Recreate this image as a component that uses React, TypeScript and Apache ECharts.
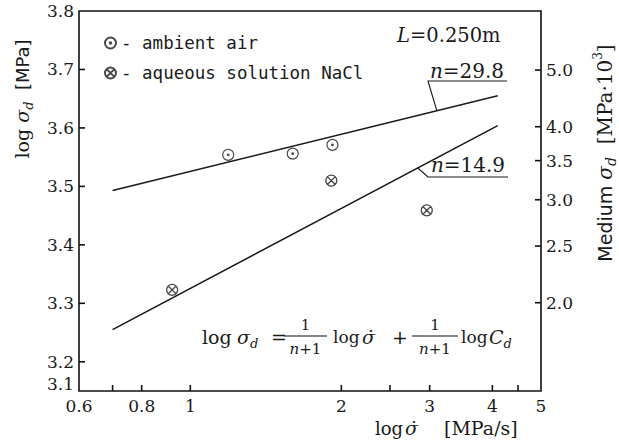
import React, { useEffect, useRef } from "react";
import * as echarts from "echarts";

// ---- data ----
// stress rate σ̇ [MPa/s] and log σd [MPa]
const AIR_RATE = [1.19, 1.6, 1.92];
const AIR_LOG_STRESS = [3.554, 3.556, 3.571];
const NACL_RATE = [0.92, 1.91, 2.96];
const NACL_LOG_STRESS = [3.323, 3.51, 3.459];
// fitted lines (end points)
const FIT_RATE = [0.7, 4.1];
const FIT_AIR = [3.493, 3.655]; // n = 29.8
const FIT_NACL = [3.255, 3.604]; // n = 14.9
// axes
const X_MIN = 0.6;
const X_MAX = 5;
const X_LABEL_VALUES = [0.6, 0.8, 1, 2, 3, 4, 5];
const X_TICK_VALUES = [0.7, 0.8, 1, 2, 2.5, 3, 4, 4.5];
const Y_BREAK = 3.15; // broken-axis origin, labelled 3.1 in the figure
const Y_ORIGIN_LABEL = "3.1";
const Y_MAX = 3.8;
const Y_TICK_VALUES = [3.2, 3.3, 3.4, 3.5, 3.6, 3.7];
const RIGHT_MEDIUM = [2.0, 2.5, 3.0, 3.5, 4.0, 5.0]; // MPa·10^3

const SERIF = "'DejaVu Serif', 'Liberation Serif', serif";
const SANS = "'DejaVu Sans', sans-serif";
const MONO = "'DejaVu Sans Mono', monospace";
const INK = "#1a1a1a";

const CIRCLE = "M0,10a10,10 0 1,0 20,0a10,10 0 1,0 -20,0Z";
const SYMBOL_AIR = "path://" + CIRCLE + "M8.5,10a1.5,1.5 0 1,0 3,0a1.5,1.5 0 1,0 -3,0Z";
const SYMBOL_NACL = "path://" + CIRCLE + "M2.93,2.93L17.07,17.07M17.07,2.93L2.93,17.07";

const zip = (a: number[], b: number[]) => a.map((v, i) => [v, b[i]]);

function fitAt(rate: number, fit: number[]) {
  const l0 = Math.log10(FIT_RATE[0]);
  const l1 = Math.log10(FIT_RATE[1]);
  const t = (Math.log10(rate) - l0) / (l1 - l0);
  return fit[0] + t * (fit[1] - fit[0]);
}

const rich = (size: number) => ({
  r: { fontFamily: SERIF, fontSize: size, color: INK, lineHeight: size + 6 },
  i: { fontFamily: SERIF, fontStyle: "italic", fontSize: size, color: INK, lineHeight: size + 6 },
  sub: {
    fontFamily: SERIF,
    fontStyle: "italic",
    fontSize: Math.round(size * 0.68),
    color: INK,
    lineHeight: Math.round(size * 0.68),
    verticalAlign: "bottom",
  },
  sup: {
    fontFamily: SERIF,
    fontSize: Math.round(size * 0.62),
    color: INK,
    lineHeight: Math.round(size * 0.62),
    verticalAlign: "top",
  },
  s: { fontFamily: SANS, fontSize: size - 1, color: INK, lineHeight: size + 6 },
});

function txt(x: number, y: number, text: string, size: number, align = "left", rotation = 0): any {
  return {
    type: "text",
    x,
    y,
    z: 100,
    rotation,
    silent: true,
    style: {
      text,
      rich: rich(size),
      align,
      textAlign: align,
      verticalAlign: "middle",
      textVerticalAlign: "middle",
      fontFamily: SERIF,
      fontSize: size,
      fill: INK,
    },
  };
}

function seg(x1: number, y1: number, x2: number, y2: number, w = 1.2): any {
  return {
    type: "line",
    z: 100,
    shape: { x1, y1, x2, y2 },
    style: { stroke: "#111", lineWidth: w },
  };
}

export default function App() {
  const ref = useRef<HTMLDivElement>(null);

  useEffect(() => {
    if (!ref.current) return;
    const chart = echarts.init(ref.current, null, { renderer: "svg" });

    const labelStyle = { fontFamily: SERIF, fontSize: 17, color: INK };

    const option: any = {
      animation: false,
      grid: {
        left: 79,
        right: 78,
        top: 11,
        bottom: 56,
        show: true,
        borderColor: "#111",
        borderWidth: 1.6,
      },
      legend: {
        data: ["ambient air", "aqueous solution NaCl"],
        orient: "vertical",
        left: 104,
        top: 34,
        padding: 0,
        itemWidth: 11,
        itemHeight: 11,
        itemGap: 12,
        selectedMode: false,
        formatter: "- {name}",
        textStyle: { fontFamily: MONO, fontSize: 17.5, color: INK, lineHeight: 18 },
      },
      xAxis: {
        type: "log",
        logBase: 10,
        min: X_MIN,
        max: X_MAX,
        axisLine: { show: false },
        splitLine: { show: false },
        minorTick: { show: false },
        axisTick: { show: false },
        axisLabel: {
          ...labelStyle,
          margin: 6,
          customValues: X_LABEL_VALUES,
          formatter: (v: number) => String(+Number(v).toPrecision(3)),
        },
      },
      yAxis: [
        {
          type: "value",
          min: Y_BREAK,
          max: Y_MAX,
          position: "left",
          axisLine: { show: false },
          splitLine: { show: false },
          axisTick: { show: false },
          axisLabel: {
            ...labelStyle,
            margin: 5,
            customValues: [Y_BREAK, ...Y_TICK_VALUES, Y_MAX],
            formatter: (v: number) => (v < Y_TICK_VALUES[0] - 0.01 ? "{lo|" + Y_ORIGIN_LABEL + "}" : v.toFixed(1)),
            rich: { lo: { ...labelStyle, padding: [0, 0, 14, 0] } },
          },
        },
        {
          type: "value",
          min: Y_BREAK,
          max: Y_MAX,
          position: "right",
          axisLine: { show: false },
          splitLine: { show: false },
          axisTick: { show: false },
          axisLabel: {
            ...labelStyle,
            margin: 5,
            customValues: RIGHT_MEDIUM.map((m) => Math.log10(m * 1000)),
            formatter: (v: number) => (Math.pow(10, v) / 1000).toFixed(1),
          },
        },
      ],
      series: [
        {
          name: "fit n=29.8",
          type: "line",
          data: zip(FIT_RATE, FIT_AIR),
          showSymbol: false,
          silent: true,
          lineStyle: { color: INK, width: 1.6 },
        },
        {
          name: "fit n=14.9",
          type: "line",
          data: zip(FIT_RATE, FIT_NACL),
          showSymbol: false,
          silent: true,
          lineStyle: { color: INK, width: 1.6 },
        },
        {
          name: "ambient air",
          type: "scatter",
          data: zip(AIR_RATE, AIR_LOG_STRESS),
          symbol: SYMBOL_AIR,
          symbolSize: 11,
          itemStyle: { color: "transparent", borderColor: INK, borderWidth: 1.2 },
        },
        {
          name: "aqueous solution NaCl",
          type: "scatter",
          data: zip(NACL_RATE, NACL_LOG_STRESS),
          symbol: SYMBOL_NACL,
          symbolSize: 11,
          itemStyle: { color: "transparent", borderColor: INK, borderWidth: 1.3 },
        },
      ],
    };

    chart.setOption(option);

    const px = (x: number, y: number, yi = 0) =>
      chart.convertToPixel({ xAxisIndex: 0, yAxisIndex: yi }, [x, y]) as number[];
    const airAnchor = px(3.1, fitAt(3.1, FIT_AIR));
    const naclAnchor = px(2.84, fitAt(2.84, FIT_NACL));

    const els: any[] = [];

    // inward tick marks, placed through the axes' scales
    X_TICK_VALUES.forEach((v) => {
      const p = px(v, Y_BREAK);
      els.push(seg(p[0], p[1], p[0], p[1] - 6, 1.6));
    });
    Y_TICK_VALUES.forEach((v) => {
      const p = px(X_MIN, v);
      els.push(seg(p[0], p[1], p[0] + 6, p[1], 1.6));
    });
    RIGHT_MEDIUM.forEach((m) => {
      const p = px(X_MAX, Math.log10(m * 1000), 1);
      els.push(seg(p[0], p[1], p[0] - 6, p[1], 1.6));
    });

    els.push(
      // axis titles
      txt(22, 99, "{r|log }{i|σ}{sub|d}{s|  [MPa]}", 19, "center", Math.PI / 2),
      txt(605, 153, "{s|Medium }{i|σ}{sub|d}{r|  [MPa·10}{sup|3}{r|]}", 20, "center", Math.PI / 2),
      txt(375, 428, "{r|log}", 18, "left"),
      txt(405, 428, "{i|σ̇}", 19, "left"),
      txt(444, 428, "{r|[MPa/s]}", 19, "left"),
      // L = 0.250 m
      txt(397, 35, "{i|L}{r|=0.250m}", 19.5, "left"),
      // n annotations
      txt(467, 71, "{i|n}{r|=29.8}", 20, "center"),
      {
        type: "polyline",
        z: 100,
        shape: { points: [airAnchor, [428, 81], [507, 81]] },
        style: { stroke: INK, lineWidth: 1.1, fill: null },
      },
      txt(468, 165, "{i|n}{r|=14.9}", 20, "center"),
      {
        type: "polyline",
        z: 100,
        shape: { points: [naclAnchor, [428, 177], [508, 177]] },
        style: { stroke: INK, lineWidth: 1.1, fill: null },
      },
      // equation
      txt(202, 337, "{r|log}", 19, "left"),
      txt(237, 337, "{i|σ}{sub|d}", 19, "left"),
      txt(271, 337, "{r|=}", 19, "left"),
      txt(305.5, 325, "{r|1}", 15, "center"),
      seg(284, 336, 327, 336),
      txt(305.5, 349, "{i|n}{r|+1}", 15, "center"),
      txt(333, 337, "{r|log}", 17, "left"),
      txt(362, 337, "{i|σ̇}", 19, "left"),
      txt(400, 337, "{r|+}", 19, "center"),
      txt(435, 325, "{r|1}", 15, "center"),
      seg(412, 336, 458, 336),
      txt(435, 349, "{i|n}{r|+1}", 15, "center"),
      txt(461, 337, "{r|log}", 17, "left"),
      txt(489, 337, "{i|C}{sub|d}", 19, "left")
    );

    chart.setOption({ graphic: { elements: els } });

    return () => chart.dispose();
  }, []);

  return (
    <div
      ref={ref}
      style={{ position: "fixed", left: 0, top: 0, width: 619, height: 447, background: "#fff" }}
    />
  );
}
